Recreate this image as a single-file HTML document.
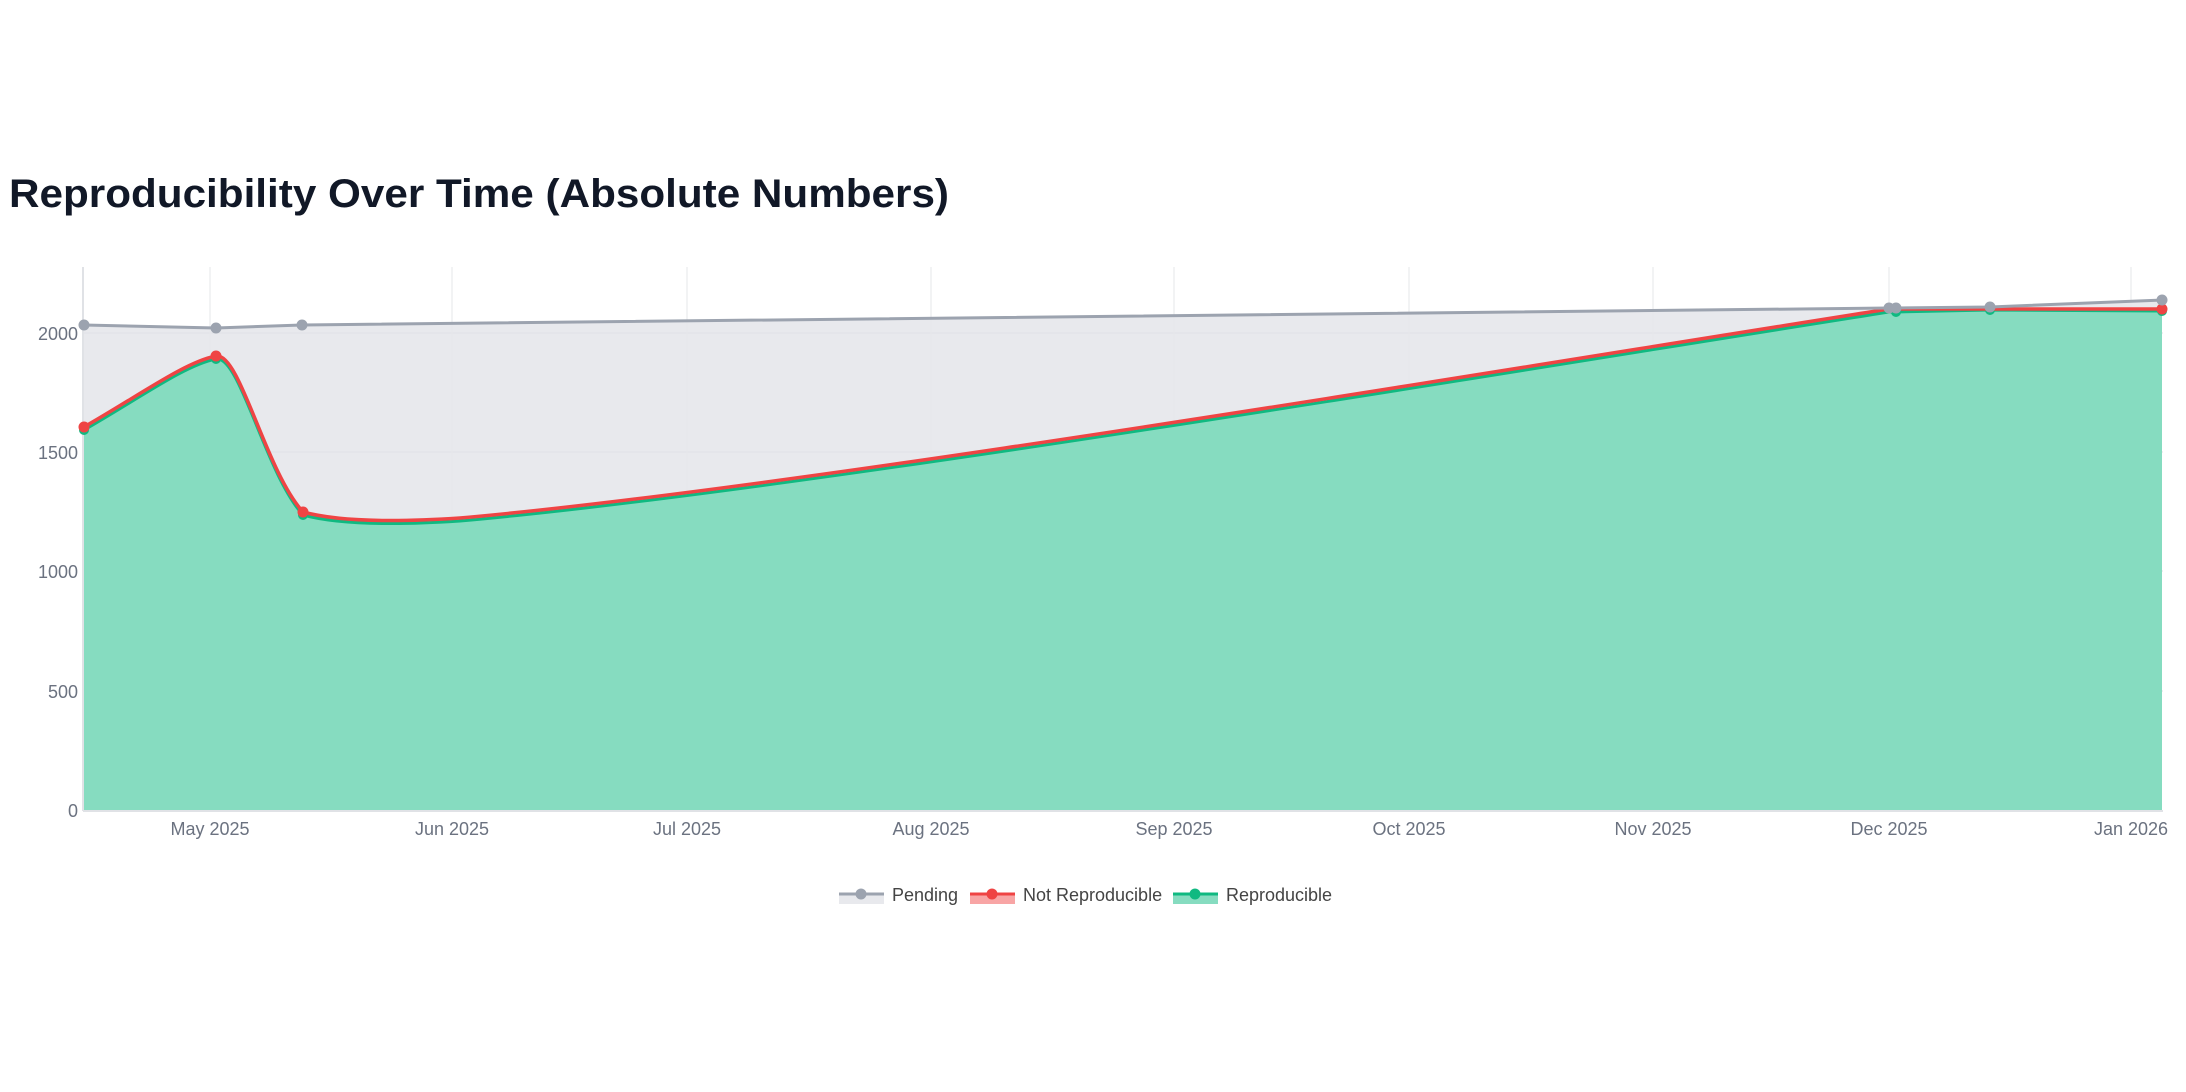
<!DOCTYPE html>
<html><head><meta charset="utf-8"><style>
html,body{margin:0;padding:0;background:#fff;}
svg{display:block;font-family:"Liberation Sans","DejaVu Sans",sans-serif;}
</style></head><body>
<svg width="2186" height="1092" viewBox="0 0 2186 1092" xmlns="http://www.w3.org/2000/svg">
<text x="9" y="207" font-size="40" font-weight="bold" fill="#111827" textLength="940" lengthAdjust="spacingAndGlyphs">Reproducibility Over Time (Absolute Numbers)</text>
<!-- pending area -->
<path d="M84,325 L216,328 L302,325 L1889,308 L1896,308 L1990,307 L2162,300 L2162,810 L84,810 Z" fill="#e8e9ed"/>
<!-- grid -->
<g stroke="#dfe1e6" stroke-width="1">
<line x1="83" y1="333" x2="2163" y2="333"/>
<line x1="83" y1="452" x2="2163" y2="452"/>
<line x1="83" y1="571" x2="2163" y2="571"/>
<line x1="83" y1="691" x2="2163" y2="691"/>
</g>
<g stroke="#e6e7ea" stroke-width="1">
<line x1="210" y1="267" x2="210" y2="810"/>
<line x1="452" y1="267" x2="452" y2="810"/>
<line x1="687" y1="267" x2="687" y2="810"/>
<line x1="931" y1="267" x2="931" y2="810"/>
<line x1="1174" y1="267" x2="1174" y2="810"/>
<line x1="1409" y1="267" x2="1409" y2="810"/>
<line x1="1653" y1="267" x2="1653" y2="810"/>
<line x1="1889" y1="267" x2="1889" y2="810"/>
<line x1="2131" y1="267" x2="2131" y2="810"/>
</g>
<!-- green area -->
<path d="M84,430 C140,398 185,365 216,359 C240,355 265,473 303,515 C340,525 400,525 460,521 C800,491 1500,373 1889,312 L1896,312 L1990,310 L2162,311 L2162,810 L84,810 Z" fill="#86dcc0"/>
<line x1="83" y1="267" x2="83" y2="811" stroke="#e0e2e6" stroke-width="2"/>
<line x1="83" y1="811" x2="2163" y2="811" stroke="#e0e2e6" stroke-width="2"/>
<!-- green line -->
<path d="M84,430 C140,398 185,365 216,359 C240,355 265,473 303,515 C340,525 400,525 460,521 C800,491 1500,373 1889,312 L1896,312 L1990,310 L2162,311" fill="none" stroke="#10b981" stroke-width="3"/>
<g fill="#10b981"><circle cx="84" cy="430" r="5"/><circle cx="216" cy="359" r="5"/><circle cx="303" cy="515" r="5"/><circle cx="1896" cy="312" r="5"/><circle cx="1990" cy="310" r="5"/><circle cx="2162" cy="311" r="5"/></g>
<!-- red line -->
<path d="M84,427 C140,395 185,362 216,356 C240,352 265,470 303,512 C340,522 400,522 460,518 C800,488 1500,370 1889,309 L1896,309 L1990,309 L2162,309" fill="none" stroke="#ef4444" stroke-width="3.5"/>
<g fill="#ef4444"><circle cx="84" cy="427" r="5.5"/><circle cx="216" cy="356" r="5.5"/><circle cx="303" cy="512" r="5.5"/><circle cx="2162" cy="309" r="5.5"/></g>
<!-- pending line -->
<path d="M84,325 L216,328 L302,325 L1889,308 L1896,308 L1990,307 L2162,300" fill="none" stroke="#9ca3af" stroke-width="3"/>
<g fill="#9ca3af"><circle cx="84" cy="325" r="5.5"/><circle cx="216" cy="328" r="5.5"/><circle cx="302" cy="325" r="5.5"/><circle cx="1889" cy="308" r="5.5"/><circle cx="1896" cy="308" r="5.5"/><circle cx="1990" cy="307" r="5.5"/><circle cx="2162" cy="300" r="5.5"/></g>
<!-- y labels -->
<g font-size="18" fill="#6b7280" text-anchor="end">
<text x="78" y="340">2000</text><text x="78" y="459">1500</text><text x="78" y="578">1000</text><text x="78" y="698">500</text><text x="78" y="817">0</text>
</g>
<g font-size="18" fill="#6b7280" text-anchor="middle">
<text x="210" y="835">May 2025</text><text x="452" y="835">Jun 2025</text><text x="687" y="835">Jul 2025</text><text x="931" y="835">Aug 2025</text><text x="1174" y="835">Sep 2025</text><text x="1409" y="835">Oct 2025</text><text x="1653" y="835">Nov 2025</text><text x="1889" y="835">Dec 2025</text><text x="2131" y="835">Jan 2026</text>
</g>
<!-- legend -->
<g font-size="18" fill="#444">
<rect x="839" y="894" width="45" height="10" fill="#e8e9ed"/><line x1="839" y1="894" x2="884" y2="894" stroke="#9ca3af" stroke-width="3"/><circle cx="861" cy="894" r="5.5" fill="#9ca3af"/>
<text x="892" y="901">Pending</text>
<rect x="970" y="894" width="45" height="10" fill="#f8a5a5"/><line x1="970" y1="894" x2="1015" y2="894" stroke="#ef4444" stroke-width="3"/><circle cx="992" cy="894" r="5.5" fill="#ef4444"/>
<text x="1023" y="901">Not Reproducible</text>
<rect x="1173" y="894" width="45" height="10" fill="#86dcc0"/><line x1="1173" y1="894" x2="1218" y2="894" stroke="#10b981" stroke-width="3"/><circle cx="1195" cy="894" r="5.5" fill="#10b981"/>
<text x="1226" y="901">Reproducible</text>
</g>
</svg>
</body></html>
